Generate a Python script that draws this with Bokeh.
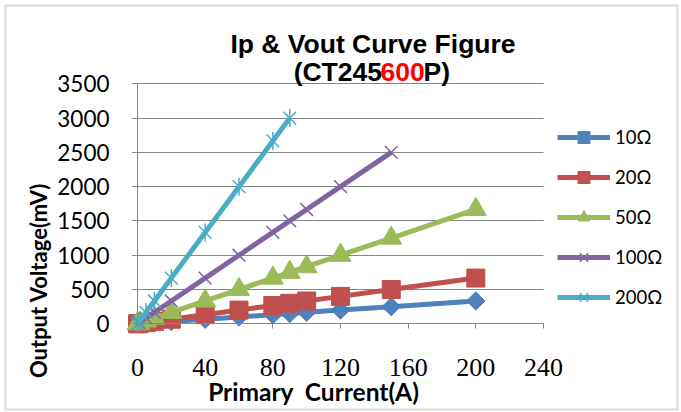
import math
from bokeh.plotting import figure
from bokeh.models import (Range1d, FixedTicker, Label, Legend, LegendItem,
                          BoxAnnotation)
from bokeh.embed import file_html
from bokeh.resources import INLINE

# ---- data ----
current_a = [0, 1, 5, 10, 20, 40, 60, 80, 90, 100, 120, 150, 200]
v_10 = [0, 2, 8, 17, 33, 67, 100, 133, 150, 167, 200, 250, 333]
v_20 = [0, 3, 17, 33, 67, 133, 200, 267, 300, 333, 400, 500, 667]
v_50 = [0, 8, 42, 83, 167, 333, 500, 667, 750, 833, 1000, 1250, 1667]
current_100 = [0, 1, 5, 10, 20, 40, 60, 80, 90, 100, 120, 150]
v_100 = [0, 17, 83, 167, 333, 667, 1000, 1333, 1500, 1667, 2000, 2500]
current_200 = [0, 1, 5, 10, 20, 40, 60, 80, 90]
v_200 = [0, 33, 167, 333, 667, 1333, 2000, 2667, 3000]
series_names = ["10Ω", "20Ω", "50Ω", "100Ω", "200Ω"]
x_ticks = [0, 40, 80, 120, 160, 200, 240]
y_ticks = [0, 500, 1000, 1500, 2000, 2500, 3000, 3500]

W, H = 681, 412
p = figure(width=W, height=H, output_backend="svg", toolbar_location=None,
           x_range=Range1d(-81.0, 321.6), y_range=Range1d(-1293.5, 4714.8),
           min_border_left=0, min_border_right=0, min_border_top=0,
           min_border_bottom=0)
p.outline_line_color = None
p.background_fill_color = "white"
p.border_fill_color = "white"

# chart-area border
p.add_layout(BoxAnnotation(left=5, right=677, bottom=3, top=407,
                           left_units="screen", right_units="screen",
                           bottom_units="screen", top_units="screen",
                           fill_alpha=0, line_color="#8a8a8a", line_width=2))

# axes
for ax in (p.xaxis[0], p.yaxis[0]):
    ax.fixed_location = 0
    ax.axis_line_color = "#868686"
    ax.axis_line_width = 1
    ax.major_tick_line_color = "#868686"
    ax.major_tick_out = 5
    ax.major_tick_in = 0
    ax.minor_tick_line_color = None
p.xaxis[0].bounds = (0, 240)
p.yaxis[0].bounds = (0, 3500)
p.xaxis[0].ticker = FixedTicker(ticks=x_ticks)
p.yaxis[0].ticker = FixedTicker(ticks=y_ticks)
p.xaxis[0].major_label_text_font = "Liberation Serif"
p.xaxis[0].major_label_text_font_size = "26px"
p.xaxis[0].major_label_text_color = "black"
p.xaxis[0].major_label_standoff = 30
p.yaxis[0].major_label_text_font = "Lato"
p.yaxis[0].major_label_text_font_size = "22.5px"
p.yaxis[0].major_label_text_color = "black"
p.yaxis[0].major_label_standoff = 23

p.xgrid.grid_line_color = None
p.ygrid.grid_line_color = "#868686"
p.ygrid.grid_line_width = 1
p.ygrid.ticker = FixedTicker(ticks=y_ticks)
p.ygrid.cross_bounds = (-3, 240)

colors = ["#4F81BD", "#C0504D", "#9BBB59", "#8064A2", "#4BACC6"]
xs = [current_a, current_a, current_a, current_100, current_200]
ys = [v_10, v_20, v_50, v_100, v_200]

items = []
for i in range(5):
    c = colors[i]
    rs = [p.line(xs[i], ys[i], line_color=c, line_width=5)]
    if i == 0:
        rs.append(p.scatter(xs[i], ys[i], marker="square", angle=math.pi / 4,
                            size=13, fill_color=c, line_color=c))
    elif i == 1:
        rs.append(p.scatter(xs[i], ys[i], marker="square", size=18,
                            fill_color=c, line_color=c))
    elif i == 2:
        rs.append(p.scatter(xs[i], ys[i], marker="triangle", size=21,
                            fill_color=c, line_color=c))
    elif i == 3:
        rs.append(p.scatter(xs[i], ys[i], marker="x", size=18,
                            line_color=c, line_width=1.5))
    else:
        rs.append(p.scatter(xs[i], ys[i], marker="x", size=18,
                            line_color=c, line_width=1.5))
        rs.append(p.scatter(xs[i], ys[i], marker="dash", angle=math.pi / 2,
                            size=18, line_color=c, line_width=1.5))
    items.append(LegendItem(label=series_names[i], renderers=rs))

legend = Legend(items=items, location=(557, 100), orientation="vertical")
legend.border_line_color = None
legend.background_fill_alpha = 0
legend.glyph_width = 53
legend.glyph_height = 30
legend.label_height = 30
legend.spacing = 10
legend.padding = 10
legend.margin = 0
legend.label_standoff = 5
legend.label_text_font = "Lato"
legend.label_text_font_size = "18.5px"
legend.label_text_color = "black"
p.add_layout(legend, "center")

# titles (screen units, y measured up from the bottom)
title_font = "Liberation Sans"
def title_part(x, y, text, align, color):
    p.add_layout(Label(x=x, y=y, x_units="screen", y_units="screen",
                       text=text, text_font=title_font, text_font_style="bold",
                       text_font_size="26.5px", text_align=align,
                       text_baseline="alphabetic", text_color=color))

title_part(372.5, 369, "Ip & Vout Curve Figure", "center", "black")
title_part(381.5, 340.5, "(CT245", "right", "black")
title_part(402.2, 340.5, "600", "center", "#FF0000")
title_part(423, 340.5, "P)", "left", "black")

# axis titles
p.add_layout(Label(x=38, y=132, x_units="screen", y_units="screen",
                   text="Output Voltage(mV)", angle=math.pi / 2,
                   text_font="Lato", text_font_style="bold",
                   text_font_size="22px", text_align="center",
                   text_baseline="alphabetic", text_color="black"))
p.add_layout(Label(x=313, y=20.7, x_units="screen", y_units="screen",
                   text="Primary\u00a0 Current(A)",
                   text_font="Lato", text_font_style="bold",
                   text_font_size="24.5px", text_align="center",
                   text_baseline="alphabetic", text_color="black"))

open("out.html", "w").write(file_html(p, INLINE))
